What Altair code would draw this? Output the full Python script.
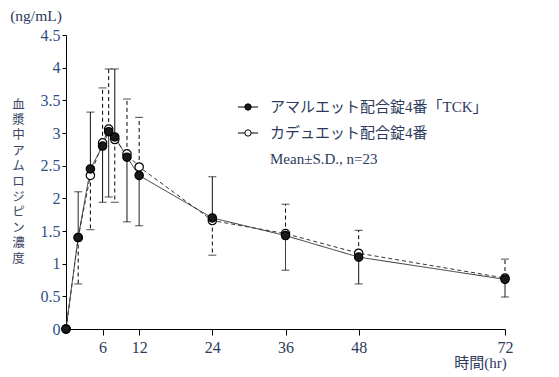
import altair as alt
import pandas as pd
import numpy as np

times = [0, 2, 4, 6, 7, 8, 10, 12, 24, 36, 48, 72]
tck_mean = [0, 1.40, 2.45, 2.80, 3.02, 2.94, 2.63, 2.35, 1.70, 1.43, 1.10, 0.76]
cad_mean = [0, 1.40, 2.35, 2.85, 3.06, 2.90, 2.68, 2.48, 1.66, 1.46, 1.16, 0.78]
# one-sided S.D. bar end points (mean ± S.D.)
tck_bar_end = [np.nan, 2.10, 3.32, 1.94, 2.02, 3.98, 1.64, 1.58, 2.33, 0.90, 0.69, 0.49]
cad_bar_end = [np.nan, 0.69, 1.52, 3.69, 3.98, 1.94, 3.52, 3.24, 1.13, 1.91, 1.51, 1.07]

series_names = ["アマルエット配合錠4番「TCK」", "カデュエット配合錠4番"]
x_ticks = [6, 12, 24, 36, 48, 72]
y_ticks = [0, 0.5, 1, 1.5, 2, 2.5, 3, 3.5, 4, 4.5]
note_text = "Mean±S.D.,  n=23"
unit_text = "(ng/mL)"
x_title = "時間(hr)"
y_title = "血漿中アムロジピン濃度"

rows = []
for name, means, ends in [(series_names[0], tck_mean, tck_bar_end),
                          (series_names[1], cad_mean, cad_bar_end)]:
    for t, m, e in zip(times, means, ends):
        rows.append({"series": name, "time": t, "mean": m,
                     "end": None if np.isnan(e) else e})
df = pd.DataFrame(rows)

LATIN = "Liberation Serif, Noto Sans CJK JP"
TXT = "#2d3a5c"

x_scale = alt.Scale(domain=[0, 72], nice=False, zero=False)
y_scale = alt.Scale(domain=[0, 4.5], nice=False)
x_axis = alt.Axis(values=x_ticks, title=x_title, grid=False,
                  tickSize=6, labelPadding=4, labelFontSize=16,
                  labelFont=LATIN, labelColor=TXT, domainColor="black",
                  tickColor="black", labelFlush=False, labelOverlap=False,
                  titleFont=LATIN, titleFontSize=15, titleFontWeight="normal",
                  titleColor=TXT, titleX=414, titleY=33,
                  titleAlign="center", titleBaseline="middle")
y_axis = alt.Axis(values=y_ticks, title=list(y_title), grid=False, format="~g",
                  tickSize=4, labelPadding=2, labelFontSize=16,
                  labelFont=LATIN, labelColor="#2f4f86", domainColor="black",
                  tickColor="black", labelFlush=False, labelOverlap=False,
                  titleFont="Noto Sans CJK JP", titleFontSize=12.5,
                  titleFontWeight="normal", titleColor="#3d4766",
                  titleAngle=0, titleLineHeight=15.4, titleX=-48, titleY=63,
                  titleAlign="center", titleBaseline="top")

x_enc = alt.X("time:Q", scale=x_scale, axis=x_axis)
y_enc = alt.Y("mean:Q", scale=y_scale, axis=y_axis)

base = alt.Chart(df)
dash_scale = alt.Scale(domain=series_names, range=[[1, 0], [4, 3]])

bars = base.transform_filter("isValid(datum.end)").mark_rule(
    color="black", strokeWidth=1).encode(
    x=x_enc, y=y_enc, y2="end:Q",
    strokeDash=alt.StrokeDash("series:N", scale=dash_scale, legend=None))

caps = base.transform_filter("isValid(datum.end)").mark_tick(
    orient="horizontal", size=8, thickness=1, color="black").encode(
    x=x_enc, y=alt.Y("end:Q", scale=y_scale, axis=y_axis))

lines = base.mark_line(color="#333333", strokeWidth=1).encode(
    x=x_enc, y=y_enc,
    strokeDash=alt.StrokeDash("series:N",
                              scale=alt.Scale(domain=series_names, range=[[1, 0], [5, 3]]),
                              legend=None),
    detail="series:N")

points_cad = base.transform_filter(alt.datum.series == series_names[1]).mark_point(
    filled=True, size=70, strokeWidth=1.2, opacity=1, stroke="black", fill="white").encode(
    x=x_enc, y=y_enc)
points_tck = base.transform_filter(alt.datum.series == series_names[0]).mark_point(
    filled=True, size=70, strokeWidth=1.2, opacity=1, stroke="black", fill="#1a1a1a").encode(
    x=x_enc, y=y_enc)

# manual legend (positions in pixels relative to plot area)
legend_layers = []
for i, (name, fillc) in enumerate(zip(series_names, ["#1a1a1a", "white"])):
    yy = 72 + 26 * i
    ldf = pd.DataFrame({"label": [name]})
    lb = alt.Chart(ldf)
    legend_layers.append(lb.mark_rule(color="black", strokeWidth=1).encode(
        x=alt.value(172), x2=alt.value(192), y=alt.value(yy)))
    legend_layers.append(lb.mark_point(filled=True, size=40, stroke="black",
                                       strokeWidth=1, fill=fillc, opacity=1).encode(
        x=alt.value(182), y=alt.value(yy)))
    legend_layers.append(lb.mark_text(align="left", baseline="middle", font=LATIN,
                                      fontSize=15, color=TXT).encode(
        text="label:N", x=alt.value(204), y=alt.value(yy)))

note = alt.Chart(pd.DataFrame({"t": [note_text]})).mark_text(
    align="left", baseline="middle", font=LATIN, fontSize=15, color=TXT).encode(
    text="t:N", x=alt.value(204), y=alt.value(124))

unit = alt.Chart(pd.DataFrame({"t": [unit_text]})).mark_text(
    align="center", baseline="middle", font=LATIN, fontSize=15.5, color=TXT).encode(
    text="t:N", x=alt.value(-30), y=alt.value(-19))

chart = alt.layer(bars, caps, lines, points_cad, points_tck, *legend_layers, note, unit).properties(
    width=439, height=294,
    padding={"left": 66, "top": 35, "right": 54, "bottom": 48},
    autosize=alt.AutoSizeParams(type="none"),
    background="white",
).configure_view(stroke=None)

chart.save("out.html", embed_options={"renderer": "svg", "actions": False})
